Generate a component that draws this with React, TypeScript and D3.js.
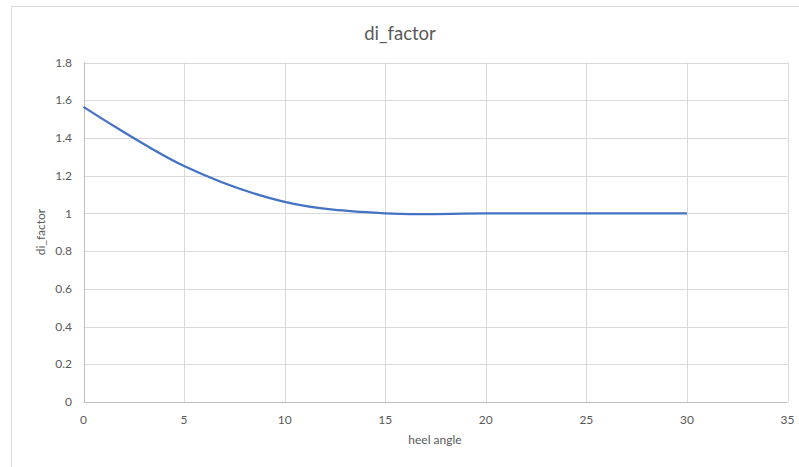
import React from "react";
import * as d3 from "d3";

const heelAngles = [0, 5, 10, 15, 20, 25, 30];
const diFactor = [1.565, 1.251, 1.061, 1.0, 1.0, 1.0, 1.0];
const xTicks = [0, 5, 10, 15, 20, 25, 30, 35];
const yTicks = [0, 0.2, 0.4, 0.6, 0.8, 1, 1.2, 1.4, 1.6, 1.8];

const W = 799;
const H = 467;
const left = 83.5;
const right = 787.5;
const top = 62.5;
const bottom = 402;

export default function App() {
  const x = d3.scaleLinear().domain([0, 35]).range([left, right]);
  const y = d3.scaleLinear().domain([0, 1.8]).range([bottom, top]);
  const line = d3
    .line<number>()
    .x((_, i) => x(heelAngles[i]))
    .y((d) => y(d))
    .curve(d3.curveCardinal.tension(0));
  const font = "Lato, 'Open Sans', sans-serif";
  const txt = "#595959";
  return (
    <svg
      width={W}
      height={H}
      style={{ position: "absolute", left: 0, top: 0, background: "#fff" }}
      fontFamily={font}
    >
      <path d={`M11.5,${H} V6.5 H${W}`} fill="none" stroke="#d9d9d9" strokeWidth={1} />
      {yTicks.map((t) => (
        <line key={"gy" + t} x1={left} x2={right} y1={Math.round(y(t)) + 0.5} y2={Math.round(y(t)) + 0.5} stroke="#d9d9d9" strokeWidth={1} />
      ))}
      {xTicks.map((t) => (
        <line key={"gx" + t} x1={Math.round(x(t)) + 0.5} x2={Math.round(x(t)) + 0.5} y1={top} y2={bottom} stroke="#d9d9d9" strokeWidth={1} />
      ))}
      <line x1={Math.round(left) + 0.5} x2={Math.round(left) + 0.5} y1={top} y2={bottom} stroke="#bfbfbf" />
      <line x1={left} x2={right} y1={Math.round(y(0)) + 0.5} y2={Math.round(y(0)) + 0.5} stroke="#bfbfbf" />
      {yTicks.map((t) => (
        <text key={"ty" + t} x={72} y={y(t)} dy="0.35em" textAnchor="end" fontSize={12} fill={txt}>
          {String(t)}
        </text>
      ))}
      {xTicks.map((t) => (
        <text key={"tx" + t} x={x(t)} y={420} dy="0.35em" textAnchor="middle" fontSize={12} fill={txt}>
          {String(t)}
        </text>
      ))}
      <path d={line(diFactor) || ""} fill="none" stroke="#4472C4" strokeWidth={2.25} />
      <text x={400} y={34} dy="0.35em" textAnchor="middle" fontSize={18.5} fill={txt}>
        di_factor
      </text>
      <text x={435} y={440} dy="0.35em" textAnchor="middle" fontSize={12} fill={txt}>
        heel angle
      </text>
      <text transform={`translate(41,232) rotate(-90)`} dy="0.35em" textAnchor="middle" fontSize={12} fill={txt}>
        di_factor
      </text>
    </svg>
  );
}
